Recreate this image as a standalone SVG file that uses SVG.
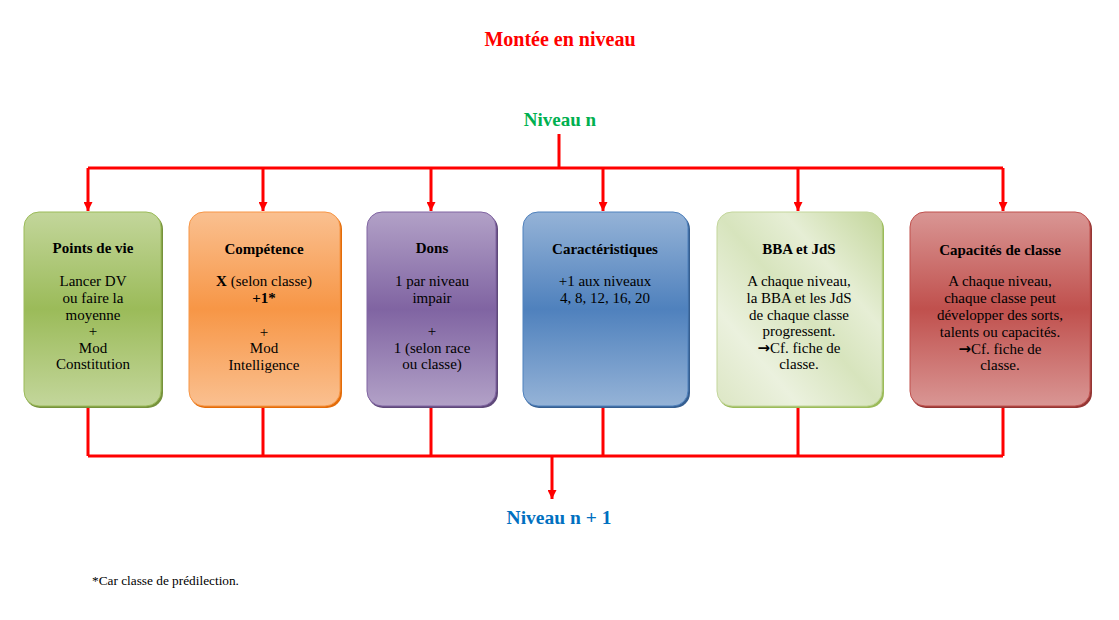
<svg xmlns="http://www.w3.org/2000/svg" width="1119" height="620" viewBox="0 0 1119 620">
<defs>
<style>
.t{font-family:"Liberation Serif","Times New Roman",serif;fill:#000;text-anchor:middle}
.h{font-size:15px;font-weight:bold}
.b{font-size:15px}
.ar{font-family:"DejaVu Sans",sans-serif;font-size:15px;font-weight:bold}
.ln{stroke:#FF0000;stroke-width:3;fill:none}
</style>
<marker id="ah" markerWidth="9" markerHeight="9" refX="4.5" refY="9" orient="0" markerUnits="userSpaceOnUse" viewBox="0 0 9 9"><path d="M0,0 L9,0 L4.5,9 Z" fill="#FF0000"/></marker>
<linearGradient id="gG" x1="0" y1="0" x2="0" y2="1"><stop offset="0" stop-color="#C3D69B"/><stop offset="0.5" stop-color="#9BBB59"/><stop offset="1" stop-color="#C3D69B"/></linearGradient>
<linearGradient id="gO" x1="0" y1="0" x2="0" y2="1"><stop offset="0" stop-color="#FAC090"/><stop offset="0.5" stop-color="#F79646"/><stop offset="1" stop-color="#FAC090"/></linearGradient>
<linearGradient id="gP" x1="0" y1="0" x2="0" y2="1"><stop offset="0" stop-color="#B2A1C7"/><stop offset="0.5" stop-color="#8064A2"/><stop offset="1" stop-color="#B2A1C7"/></linearGradient>
<linearGradient id="gB" x1="0" y1="0" x2="0" y2="1"><stop offset="0" stop-color="#95B3D7"/><stop offset="0.5" stop-color="#4F81BD"/><stop offset="1" stop-color="#95B3D7"/></linearGradient>
<linearGradient id="gL" x1="1" y1="0" x2="0" y2="1"><stop offset="0" stop-color="#C3D69B"/><stop offset="0.3" stop-color="#E6EED5"/><stop offset="0.5" stop-color="#D7E4BD"/><stop offset="0.75" stop-color="#EBF1DE"/><stop offset="1" stop-color="#DCE6C4"/></linearGradient>
<linearGradient id="gR" x1="0" y1="0" x2="0" y2="1"><stop offset="0" stop-color="#D99694"/><stop offset="0.5" stop-color="#C0504D"/><stop offset="1" stop-color="#D99694"/></linearGradient>
</defs>
<rect width="1119" height="620" fill="#fff"/>
<text x="560" y="46" style="font-family:'Liberation Serif',serif;font-size:20px;font-weight:bold;fill:#FF0000;text-anchor:middle">Montée en niveau</text>
<g id="niveau-n"><text x="560" y="126" style="font-family:'Liberation Serif',serif;font-size:19px;font-weight:bold;fill:#00B050;text-anchor:middle">Niveau n</text></g>
<g id="niveau-n1"><text x="559" y="524" style="font-family:'Liberation Serif',serif;font-size:19.5px;font-weight:bold;fill:#0070C0;text-anchor:middle">Niveau n + 1</text></g>
<g id="connectors">
<path class="ln" d="M559,134 V168 M88,168 H1003"/>
<path class="ln" d="M88,168 V211" marker-end="url(#ah)"/>
<path class="ln" d="M263,168 V211" marker-end="url(#ah)"/>
<path class="ln" d="M431,168 V211" marker-end="url(#ah)"/>
<path class="ln" d="M603,168 V211" marker-end="url(#ah)"/>
<path class="ln" d="M798,168 V211" marker-end="url(#ah)"/>
<path class="ln" d="M1003,168 V211" marker-end="url(#ah)"/>
<path class="ln" d="M88,408 V456 M263,408 V456 M431,408 V456 M603,408 V456 M798,408 V456 M1003,408 V456 M88,456 H1003"/>
<path class="ln" d="M552,456 V499" marker-end="url(#ah)"/>
</g>
<g id="points-de-vie">
<rect x="25" y="214" width="138" height="194" rx="15" fill="#76923C"/>
<rect x="24" y="212" width="137" height="194" rx="15" fill="url(#gG)" stroke="#9BBB59" stroke-width="1"/>
<text class="t h" x="93" y="253">Points de vie</text>
<text class="t b" x="93" y="286">Lancer DV</text>
<text class="t b" x="93" y="303">ou faire la</text>
<text class="t b" x="93" y="320">moyenne</text>
<text class="t b" x="93" y="336">+</text>
<text class="t b" x="93" y="353">Mod</text>
<text class="t b" x="93" y="369">Constitution</text>
</g>
<g id="competence">
<rect x="190" y="214" width="152" height="194" rx="15" fill="#E36C09"/>
<rect x="189" y="212" width="151" height="194" rx="15" fill="url(#gO)" stroke="#F79646" stroke-width="1"/>
<text class="t h" x="264" y="254">Compétence</text>
<text class="t b" x="264" y="286"><tspan font-weight="bold">X</tspan> (selon classe)</text>
<text class="t b" x="264" y="303" font-weight="bold">+1*</text>
<text class="t b" x="264" y="337">+</text>
<text class="t b" x="264" y="353">Mod</text>
<text class="t b" x="264" y="370">Intelligence</text>
</g>
<g id="dons">
<rect x="368" y="214" width="130" height="194" rx="15" fill="#5F497A"/>
<rect x="367" y="212" width="129" height="194" rx="15" fill="url(#gP)" stroke="#8064A2" stroke-width="1"/>
<text class="t h" x="432" y="253">Dons</text>
<text class="t b" x="432" y="286">1 par niveau</text>
<text class="t b" x="432" y="303">impair</text>
<text class="t b" x="432" y="336">+</text>
<text class="t b" x="432" y="353">1 (selon race</text>
<text class="t b" x="432" y="369">ou classe)</text>
</g>
<g id="caracteristiques">
<rect x="524" y="214" width="166" height="194" rx="15" fill="#365F91"/>
<rect x="523" y="212" width="165" height="194" rx="15" fill="url(#gB)" stroke="#4F81BD" stroke-width="1"/>
<text class="t h" x="605" y="254">Caractéristiques</text>
<text class="t b" x="605" y="286">+1 aux niveaux</text>
<text class="t b" x="605" y="303">4, 8, 12, 16, 20</text>
</g>
<g id="bba-jds">
<rect x="718" y="214" width="166" height="194" rx="15" fill="#9BBB59"/>
<rect x="717" y="212" width="165" height="194" rx="15" fill="url(#gL)" stroke="#C3D69B" stroke-width="1"/>
<text class="t h" x="799" y="254">BBA et JdS</text>
<text class="t b" x="799" y="286">A chaque niveau,</text>
<text class="t b" x="799" y="303">la BBA et les JdS</text>
<text class="t b" x="799" y="320">de chaque classe</text>
<text class="t b" x="799" y="336">progressent.</text>
<text class="t b" x="799" y="353"><tspan class="ar">→</tspan>Cf. fiche de</text>
<text class="t b" x="799" y="369">classe.</text>
</g>
<g id="capacites">
<rect x="911" y="214" width="181" height="194" rx="15" fill="#943634"/>
<rect x="910" y="212" width="180" height="194" rx="15" fill="url(#gR)" stroke="#C0504D" stroke-width="1"/>
<text class="t h" x="1000" y="255">Capacités de classe</text>
<text class="t b" x="1000" y="286">A chaque niveau,</text>
<text class="t b" x="1000" y="303">chaque classe peut</text>
<text class="t b" x="1000" y="320">développer des sorts,</text>
<text class="t b" x="1000" y="337">talents ou capacités.</text>
<text class="t b" x="1000" y="354"><tspan class="ar">→</tspan>Cf. fiche de</text>
<text class="t b" x="1000" y="370">classe.</text>
</g>
<text x="92" y="585" style="font-family:'Liberation Serif',serif;font-size:13.3px;fill:#000">*Car classe de prédilection.</text>
</svg>
